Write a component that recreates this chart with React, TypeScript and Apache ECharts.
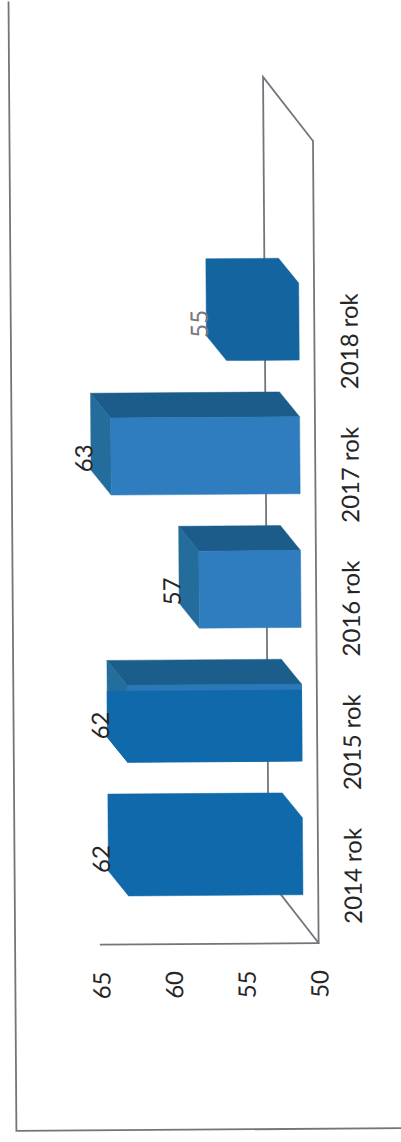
import React, { useEffect, useRef } from "react";
import * as echarts from "echarts";

const categories = ["2014 rok", "2015 rok", "2016 rok", "2017 rok", "2018 rok", ""];
const values = [62, 62, 57, 63, 55];
const frontColors = ["#0f69aa", "#0f69aa", "#2f7cbe", "#2f7cbe", "#14659f"];
const topColors = ["#0f69aa", "#1c5e8b", "#1b5c8b", "#1b5c8b", "#14659f"];
const sideColors = ["#0f69aa", "#236e9d", "#246c9b", "#246c9b", "#14659f"];
const labelColors = ["#262626", "#262626", "#262626", "#262626", "#77777c"];
const stripColors = [null, "#2b78b8", null, null, null];

const W = 401;
const H = 1142;
const LEFT = 98;
const RIGHT = 316;
const TOP = 141.8;
const BOTTOM = 943.8;
const WALL_DX = 49.5;
const WALL_DY = 64.4;
const FRONT_DX = 15.3;
const FRONT_DY = 20;
const DEPTH_DX = 20;
const DEPTH_DY = 25;
const BAR_H = 77;
const STRIP = 6;
const LINE = "#74747c";
const LINE_W = 1.8;
const FONT = "Lato";
const FONT_SIZE = 24;

function renderBar(params: any, api: any) {
  const i = params.dataIndex;
  const value = api.value(0);
  const idx = api.value(1);
  const tip = api.coord([value, idx]);
  const base = api.coord([50, idx]);
  const fl = tip[0] - FRONT_DX;
  const fr = base[0] - FRONT_DX;
  const cy = base[1] - FRONT_DY;
  const ft = cy - BAR_H / 2;
  const fb = cy + BAR_H / 2;
  const bl = fl - DEPTH_DX;
  const br = fr - DEPTH_DX;
  const bt = ft - DEPTH_DY;
  const bb = fb - DEPTH_DY;
  const poly = (points: number[][], fill: string) => ({
    type: "polygon",
    shape: { points },
    style: { fill, stroke: fill, lineWidth: 0.5 },
  });
  const flat = frontColors[i] === topColors[i] && frontColors[i] === sideColors[i];
  const children: any[] = flat
    ? [poly([[bl, bt], [br, bt], [fr, ft], [fr, fb], [fl, fb], [bl, bb]], frontColors[i])]
    : [
        poly([[bl, bt], [br, bt], [fr, ft], [fl, ft]], topColors[i]),
        poly([[bl, bt], [fl, ft], [fl, fb], [bl, bb]], sideColors[i]),
        poly([[fl, ft], [fr, ft], [fr, fb], [fl, fb]], frontColors[i]),
      ];
  const strip = stripColors[i];
  if (strip) {
    children.push(poly([[fl, ft], [fr, ft], [fr, ft + STRIP], [fl, ft + STRIP]], strip));
    children.push(
      poly([[bl, ft + STRIP], [fr, ft + STRIP], [fr, fb], [fl, fb], [bl, bb]], frontColors[i])
    );
  }
  children.push({
    type: "text",
    x: bl - 8,
    y: cy + 1.5,
    rotation: Math.PI / 2,
    style: {
      text: String(value),
      fill: labelColors[i],
      font: `${FONT_SIZE}px ${FONT}`,
      align: "center",
      verticalAlign: "middle",
    },
  });
  return { type: "group", children };
}

export default function App() {
  const ref = useRef<HTMLDivElement>(null);
  useEffect(() => {
    const chart = echarts.init(ref.current!, null, { renderer: "svg" });
    const wallStyle = { stroke: LINE, lineWidth: LINE_W, fill: "none" };
    chart.setOption({
      animation: false,
      backgroundColor: "#ffffff",
      grid: { left: LEFT, right: W - RIGHT, top: TOP, bottom: H - BOTTOM },
      graphic: {
        elements: [
          {
            type: "polyline",
            silent: true,
            shape: { points: [[12.5, -10], [12.5, 1129.6], [W + 20, 1129.6]] },
            style: wallStyle,
          },
          {
            type: "polyline",
            silent: true,
            shape: {
              points: [
                [RIGHT, TOP],
                [RIGHT - WALL_DX, TOP - WALL_DY],
                [RIGHT - WALL_DX, BOTTOM - WALL_DY],
                [RIGHT, BOTTOM],
              ],
            },
            style: wallStyle,
          },
        ],
      },
      xAxis: {
        type: "value",
        inverse: true,
        min: 50,
        max: 65,
        interval: 5,
        position: "bottom",
        splitLine: { show: false },
        axisTick: { show: false },
        axisLine: { show: true, onZero: false, lineStyle: { color: LINE, width: LINE_W } },
        axisLabel: {
          rotate: 90,
          margin: 41,
          align: "center",
          verticalAlign: "middle",
          color: "#262626",
          fontFamily: FONT,
          fontSize: FONT_SIZE,
        },
      },
      yAxis: {
        type: "category",
        data: categories,
        position: "right",
        splitLine: { show: false },
        axisTick: { show: false },
        axisLine: { show: true, onZero: false, lineStyle: { color: LINE, width: LINE_W } },
        axisLabel: {
          rotate: 90,
          interval: 0,
          margin: 34,
          align: "center",
          verticalAlign: "middle",
          color: "#262626",
          fontFamily: FONT,
          fontSize: FONT_SIZE,
        },
      },
      series: [
        {
          type: "custom",
          z: 5,
          clip: false,
          silent: true,
          renderItem: renderBar,
          encode: { x: 0, y: 1 },
          data: values.map((v, i) => [v, i]),
        },
      ],
    });
    return () => chart.dispose();
  }, []);
  return (
    <div style={{ position: "fixed", left: 0, top: 0, width: W, height: H, overflow: "hidden", background: "#fff" }}>
      <div
        ref={ref}
        style={{
          width: W,
          height: H,
          transform: "rotate(-0.4deg)",
          transformOrigin: "200px 571px",
        }}
      />
    </div>
  );
}
